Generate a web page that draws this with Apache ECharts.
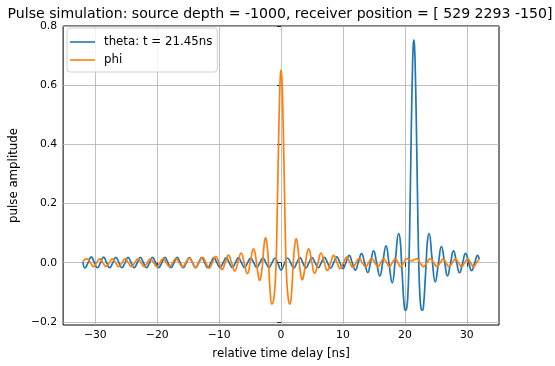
<!DOCTYPE html>
<html>
<head>
<meta charset="utf-8">
<script src="https://cdn.jsdelivr.net/npm/echarts@6/dist/echarts.min.js"></script>
<style>
html,body{margin:0;padding:0;background:#fff;}
#chart{width:555px;height:366px;}
</style>
</head>
<body>
<div id="chart"></div>
<script>
// ---- data ----
const thetaT = [-32.0,-31.68,-31.16,-30.65,-30.15,-29.66,-29.16,-28.67,-28.17,-27.68,-27.18,-26.69,-26.19,-25.70,-25.20,-24.71,-24.21,-23.72,-23.22,-22.73,-22.23,-21.74,-21.24,-20.75,-20.25,-19.76,-19.26,-18.77,-18.27,-17.78,-17.28,-16.79,-16.29,-15.80,-15.30,-14.81,-14.31,-13.82,-13.32,-12.83,-12.33,-11.84,-11.34,-10.85,-10.35,-9.86,-9.36,-8.87,-8.37,-7.88,-7.38,-6.89,-6.39,-5.90,-5.40,-4.91,-4.41,-3.92,-3.42,-2.93,-2.44,-1.95,-1.46,-0.97,-0.48,0.0,0.52,1.05,1.55,2.05,2.55,3.05,3.52,4.0,4.5,5.0,5.5,6.0,6.5,7.0,7.5,8.0,8.5,9.0,9.5,10.0,10.5,11.0,11.5,12.0,12.5,13.0,13.5,14.0,14.47,14.95,15.45,15.95,16.45,16.95,17.45,17.95,18.47,19.0,19.25,19.45,19.65,19.85,20.05,20.25,20.45,20.65,20.85,21.05,21.25,21.35,21.45,21.55,21.65,21.85,22.05,22.25,22.45,22.65,22.85,23.05,23.25,23.45,23.65,23.9,24.4,24.9,25.4,25.9,26.4,26.88,27.37,27.85,28.34,28.83,29.32,29.8,30.29,30.78,31.27,31.75,32.0];
const thetaV = [0.004,-0.018,0,0.020,0,-0.017,0,0.019,0,-0.017,0,0.018,0,-0.017,0,0.018,0,-0.017,0,0.018,0,-0.017,0,0.018,0,-0.017,0,0.018,0,-0.017,0,0.018,0,-0.017,0,0.017,0,-0.017,0,0.017,0,-0.017,0,0.017,0,-0.016,0,0.017,0,-0.016,0,0.017,0,-0.016,0,0.016,0,-0.016,0,0.016,0,-0.016,0,0.016,-0.004,-0.025,-0.004,0.016,0,-0.018,0,0.017,0,-0.018,0,0.017,0,-0.017,0,0.018,0,-0.018,0,0.020,0,-0.020,0.002,0.025,0,-0.025,0.003,0.031,-0.001,-0.033,0.003,0.040,-0.002,-0.045,0.005,0.057,-0.005,-0.068,0.012,0.099,0.075,0.005,-0.07,-0.135,-0.161,-0.158,-0.12,-0.01,0.21,0.47,0.68,0.736,0.755,0.736,0.68,0.47,0.21,-0.01,-0.12,-0.158,-0.161,-0.135,-0.07,0.005,0.075,0.099,0.012,-0.065,-0.005,0.055,0.004,-0.045,-0.002,0.040,0.002,-0.034,-0.001,0.032,0.002,-0.027,-0.001,0.025,0.012];

const phiT = [-32.0,-31.3,-30.79,-30.28,-29.78,-29.27,-28.77,-28.26,-27.75,-27.25,-26.73,-26.22,-25.7,-25.2,-24.67,-24.15,-23.62,-23.1,-22.6,-22.1,-21.6,-21.1,-20.58,-20.07,-19.56,-19.05,-18.53,-18.02,-17.51,-17.0,-16.46,-15.92,-15.38,-14.85,-14.31,-13.77,-13.23,-12.7,-12.16,-11.62,-11.08,-10.55,-10.03,-9.52,-9.01,-8.5,-7.98,-7.47,-6.96,-6.45,-5.95,-5.45,-4.95,-4.45,-4.2,-3.95,-3.7,-3.45,-3.2,-2.98,-2.75,-2.5,-2.25,-2.0,-1.75,-1.48,-1.25,-1.0,-0.9,-0.8,-0.7,-0.6,-0.4,-0.2,-0.1,0,0.1,0.2,0.4,0.6,0.7,0.8,0.9,1.0,1.22,1.43,1.7,1.95,2.2,2.45,2.7,2.94,3.18,3.43,3.68,3.93,4.2,4.45,4.95,5.42,5.95,6.45,6.97,7.48,8.0,8.5,9.03,9.55,10.08,10.6,11.1,11.6,12.1,12.6,13.12,13.65,14.15,14.65,15.15,15.65,16.1,16.55,17.05,17.5,17.97,18.45,18.88,19.3,19.8,20.3,20.7,21.1,21.5,21.9,22.45,23.0,23.55,24.1,24.65,25.2,25.7,26.2,26.65,27.1,27.65,28.15,28.65,29.15,29.65,30.15,30.62,31.1,31.55,32.0];
const phiV = [0.006,0.013,0,-0.013,0,0.013,0,-0.013,0,0.013,0,-0.013,0,0.013,0,-0.013,0,0.013,0,-0.013,0,0.013,0,-0.013,0,0.014,0,-0.013,0,0.014,0,-0.014,0.001,0.016,0.001,-0.016,0.001,0.018,0,-0.019,0.001,0.022,0,-0.023,0.001,0.026,-0.001,-0.028,0.002,0.033,-0.002,-0.037,0.004,0.047,0.033,-0.003,-0.04,-0.06,-0.04,0,0.058,0.085,0.06,-0.01,-0.1,-0.14,-0.132,-0.085,-0.05,0,0.085,0.19,0.41,0.59,0.637,0.653,0.637,0.59,0.41,0.19,0.085,0,-0.05,-0.085,-0.13,-0.14,-0.1,-0.01,0.058,0.082,0.056,0,-0.04,-0.058,-0.04,-0.003,0.033,0.047,0.004,-0.036,-0.002,0.033,0.002,-0.026,-0.001,0.025,0.001,-0.02,0,0.019,0.001,-0.016,0,0.015,0,-0.014,0,0.014,0,-0.013,0,0.013,0,-0.013,0,0.013,0,-0.014,0,0.014,0.01,0.006,0.01,0.014,0,-0.014,0,0.014,0,-0.013,0,0.013,0,-0.013,0,0.013,0,-0.013,0,0.013,0,-0.013,0,0.012];

const xTicks = [-30, -20, -10, 0, 10, 20, 30];
const yTicks = [-0.2, 0.0, 0.2, 0.4, 0.6, 0.8];
const seriesNames = ['theta: t = 21.45ns', 'phi'];
const titleText = 'Pulse simulation: source depth = -1000, receiver position = [ 529 2293 -150]';

// ---- chart ----
const FONT = 'DejaVu Sans';
const zip = (t, v) => t.map((x, i) => [x, v[i]]);
const minus = s => s.replace('-', '\u2212');

const chart = echarts.init(document.getElementById('chart'), null, {renderer: 'canvas'});
chart.setOption({
  animation: false,
  backgroundColor: '#fff',
  graphic: [{
    type: 'text', x: 280, y: 14, z: 10,
    style: {text: titleText, align: 'center', verticalAlign: 'middle',
            font: '14.1px "DejaVu Sans"', fill: '#000'}
  }],
  legend: {
    data: seriesNames.map(n => ({name: n, icon: 'rect'})),
    orient: 'vertical', left: 67, top: 28,
    itemWidth: 25, itemHeight: 1.6, itemGap: 6,
    padding: [8, 5, 6, 3],
    backgroundColor: 'rgba(255,255,255,0.8)',
    borderColor: '#d0d0d0', borderWidth: 1, borderRadius: 3,
    itemStyle: {borderWidth: 0},
    textStyle: {fontFamily: FONT, fontSize: 11.8, color: '#000', padding: [0, 0, 0, 4]}
  },
  grid: {left: 61, right: 56, top: 26, bottom: 41, show: true, borderColor: '#000', borderWidth: 1, backgroundColor: 'transparent'},
  xAxis: {
    type: 'value', min: -35.2, max: 35.2,
    name: 'relative time delay [ns]', nameLocation: 'middle', nameGap: 23,
    nameTextStyle: {fontFamily: FONT, fontSize: 11.8, color: '#000'},
    axisLine: {show: false},
    axisTick: {show: true, customValues: xTicks, length: 4, lineStyle: {color: '#000', width: 0.8}},
    axisLabel: {customValues: xTicks, fontFamily: FONT, fontSize: 10.8, color: '#000', margin: 5,
      formatter: v => minus(String(v))},
    splitLine: {show: true, lineStyle: {color: '#b0b0b0', width: 0.8}}
  },
  yAxis: {
    type: 'value', min: -0.211, max: 0.802,
    name: 'pulse amplitude', nameLocation: 'middle', nameGap: 40,
    nameTextStyle: {fontFamily: FONT, fontSize: 11.8, color: '#000'},
    axisLine: {show: false},
    axisTick: {show: true, customValues: yTicks, length: 4, lineStyle: {color: '#000', width: 0.8}},
    axisLabel: {customValues: yTicks, fontFamily: FONT, fontSize: 10.8, color: '#000', margin: 6,
      formatter: v => minus(v.toFixed(1))},
    splitLine: {show: true, lineStyle: {color: '#b0b0b0', width: 0.8}}
  },
  series: [
    {name: seriesNames[0], type: 'line', data: zip(thetaT, thetaV), smooth: 0.5, showSymbol: false,
     lineStyle: {color: '#1f77b4', width: 1.7}, itemStyle: {color: '#1f77b4'}, z: 2},
    {name: seriesNames[1], type: 'line', data: zip(phiT, phiV), smooth: 0.5, showSymbol: false,
     lineStyle: {color: '#ff7f0e', width: 1.7}, itemStyle: {color: '#ff7f0e'}, z: 3}
  ]
});
</script>
</body>
</html>
